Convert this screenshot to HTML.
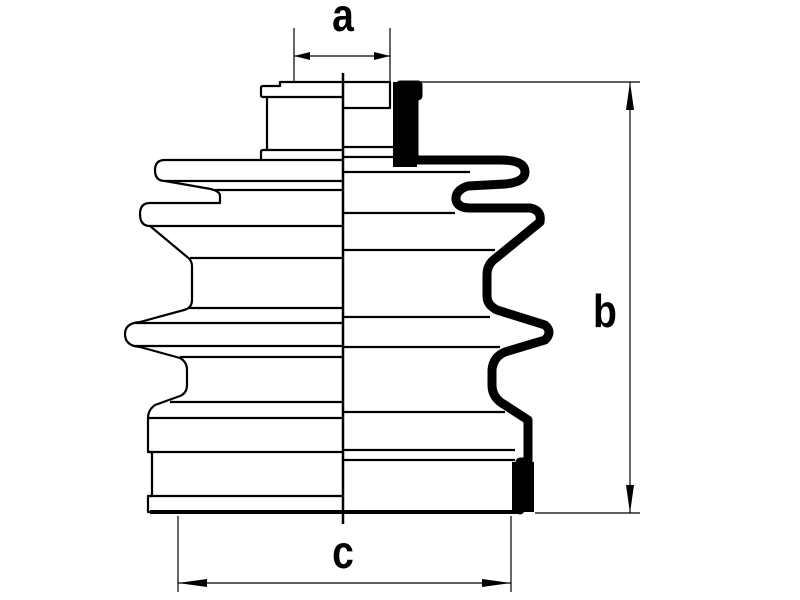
<!DOCTYPE html>
<html><head><style>html,body{margin:0;padding:0;background:#fff}svg{display:block}</style></head>
<body>
<svg width="800" height="600" viewBox="0 0 800 600" xmlns="http://www.w3.org/2000/svg">
<g fill="none" stroke="#000" stroke-width="2.2" stroke-linejoin="round">
<path d="M343,82 H280 V86 H263 Q261,86 261,88 V95 Q261,97 263,97 H267 V150 H263 Q261,150 261,152 V160 H165 Q155,160 155,170 Q155,181 165,181 L205,188 Q220,190 220,196 V203 H150 Q140,203 140,214 Q140,226 150,226 L186,256 Q192,260 192,266 V300 Q192,308 184,310 L140,322 Q125,323 125,334 Q125,346 140,347 L180,358 Q187,362 187,370 V385 Q187,393 180,396 L155,405 Q148,410 148,418 V452 H152 V496 H148 V512 H343"/>
<path d="M343,97 H267 M343,150 H267 M343,160 H261 M343,181 H165 M343,190 H215 M343,226 H150 M343,258 H190 M343,308 H188 M343,323 H135 M343,346 H135 M343,357 H180 M343,402 H170 M343,418 H148 M343,452 H148 M343,496 H150"/>
<path d="M343,82 H390 V108 H343 M343,147 H393 M343,157 H395 M343,172 H470 M343,213 H455 M343,250 H495 M343,317 H490 M343,347 H500 M343,412 H505 M343,450 H515 M343,460 H515"/>
<path d="M150,512 H520" stroke-width="4"/>
</g>
<path d="M343,73 V524" stroke="#000" stroke-width="2.5"/>
<g fill="none" stroke="#000" stroke-width="9" stroke-linejoin="round" stroke-linecap="round">
<path d="M400,85 H418 V96 H414 V160 H500 Q525,160 525,172 Q525,182 505,184 L468,186 Q455,190 456,200 Q458,208 470,208 H530 Q542,210 540,222 L496,258 Q487,264 487,275 V296 Q487,305 497,310 L545,325 Q553,332 545,340 L505,352 Q493,357 492,370 V385 Q492,398 505,405 L528,420 V462 H520 V510"/>
</g>
<rect x="393" y="82" width="24" height="85" fill="#000"/>
<rect x="512" y="462" width="22" height="50" fill="#000"/>
<g stroke="#000" stroke-width="1.2" fill="none">
<path d="M294,28 V82 M390,28 V82 M294,56 H390"/>
<path d="M400,82 H640 M535,513 H640 M630,82 V513"/>
<path d="M178,516 V592 M511,516 V592 M178,583 H511"/>
</g>
<g fill="#000">
<polygon points="294,56 310,52 310,60"/>
<polygon points="390,56 374,52 374,60"/>
<polygon points="630,82 626,110 634,110"/>
<polygon points="630,513 626,485 634,485"/>
<polygon points="178,583 207,579 207,587"/>
<polygon points="511,583 482,579 482,587"/>
</g>
<g font-family="Liberation Sans, sans-serif" font-weight="bold" font-size="46" text-anchor="middle" fill="#000">
<text x="343" y="31" transform="translate(343,0) scale(0.85,1) translate(-343,0)">a</text>
<text x="605" y="327" transform="translate(605,0) scale(0.85,1) translate(-605,0)">b</text>
<text x="343" y="568" transform="translate(343,0) scale(0.85,1) translate(-343,0)">c</text>
</g>
</svg>
</body></html>
